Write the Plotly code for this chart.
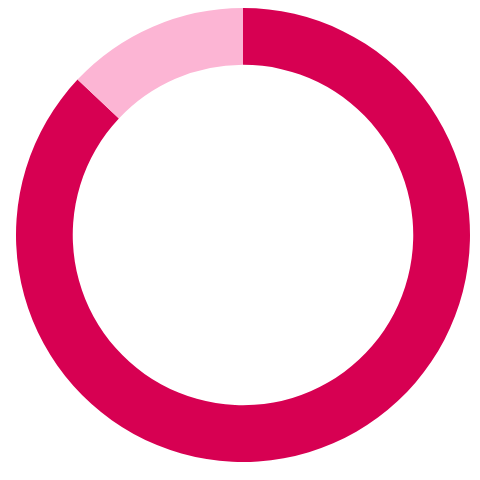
import plotly.graph_objects as go

labels = ["Yes", "No"]
values = [87, 13]
colors = ["#D70052", "#FCB5D4"]

fig = go.Figure(go.Pie(labels=labels, values=values, hole=0.75, sort=False,
                       direction="clockwise", rotation=0,
                       marker=dict(colors=colors, line=dict(width=0)),
                       textinfo="none", hoverinfo="label+percent"))
fig.update_layout(width=480, height=480, showlegend=False,
                  margin=dict(l=8, r=18, t=0, b=26),
                  paper_bgcolor="white", plot_bgcolor="white")
fig.write_html("out.html")
